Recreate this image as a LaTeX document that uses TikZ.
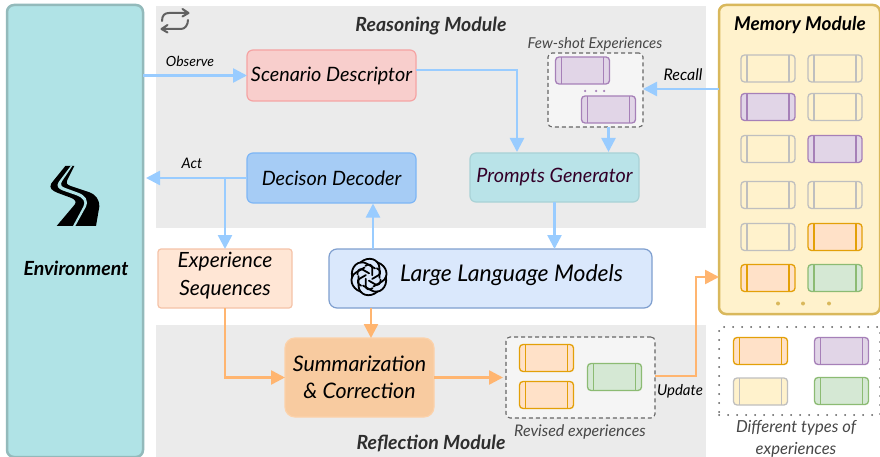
\documentclass[tikz,border=0pt]{standalone}
\usepackage{fontspec}
\setmainfont{Lato}
\usetikzlibrary{arrows.meta,calc}
\definecolor{envF}{HTML}{B0E3E6}\definecolor{envD}{HTML}{93BABB}
\definecolor{modG}{HTML}{EBEBEB}
\definecolor{blueA}{HTML}{99CCFF}\definecolor{orgA}{HTML}{FFB570}
\definecolor{memF}{HTML}{FFF2CC}\definecolor{memD}{HTML}{D9B85C}
\definecolor{purF}{HTML}{E1D5E7}\definecolor{purD}{HTML}{A680B8}
\definecolor{orgF}{HTML}{FFE1C8}\definecolor{orgD}{HTML}{E3A008}
\definecolor{grnF}{HTML}{D5E8D4}\definecolor{grnD}{HTML}{8CBB73}
\definecolor{gryD}{HTML}{BFBFBF}
\definecolor{scF}{HTML}{F8CECC}\definecolor{scD}{HTML}{F5A3A3}
\definecolor{deF}{HTML}{A6CCF5}\definecolor{deD}{HTML}{7EB6F5}
\definecolor{pgF}{HTML}{B9E3E8}\definecolor{pgD}{HTML}{A9D2D6}\definecolor{pgT}{HTML}{330028}
\definecolor{seF}{HTML}{FFE6D5}\definecolor{seD}{HTML}{F5C3A8}
\definecolor{llF}{HTML}{DAE8FC}\definecolor{llD}{HTML}{7F9FCF}
\definecolor{suF}{HTML}{F8CBA0}\definecolor{suD}{HTML}{FCD2AA}
\tikzset{
  x=1pt,y=-1pt,
  every node/.style={inner sep=0pt,outer sep=0pt,font=\itshape},
  box/.style n args={4}{draw=#2,fill=#1,line width=1.2pt,rounded corners=6pt,minimum width=#3,minimum height=#4,align=center,font=\itshape\fontsize{19.8}{27.5}\selectfont},
  card/.style 2 args={draw=#2,fill=#1,line width=1.3pt,rounded corners=3.5pt,minimum width=54pt,minimum height=27pt,
    path picture={\draw[#2,line width=1.3pt]
      ([xshift=6pt]path picture bounding box.north west)--([xshift=6pt]path picture bounding box.south west)
      ([xshift=-6pt]path picture bounding box.north east)--([xshift=-6pt]path picture bounding box.south east);}},
  cy/.style={card={memF}{gryD}}, cp/.style={card={purF}{purD}},
  co/.style={card={orgF}{orgD}}, cg/.style={card={grnF}{grnD}},
  lbl/.style={font=\itshape\fontsize{14.5}{16}\selectfont},
  lblg/.style={font=\itshape\fontsize{15}{22}\selectfont,text=black!72,align=center},
  head/.style={font=\bfseries\itshape\fontsize{19.5}{22}\selectfont,text=black!82},
  blueline/.style={draw=blueA,line width=2.5pt,-{Triangle[length=14pt,width=14pt]}},
  orgline/.style={draw=orgA,line width=2.5pt,-{Triangle[length=14pt,width=14pt]}},
  dot/.style={circle,fill=#1,minimum size=2.5pt},
  dashbox/.style={draw=black!60,fill=black!4,line width=1.1pt,dash pattern=on 4pt off 3pt,rounded corners=4pt},
}
\begin{document}
\begin{tikzpicture}
\useasboundingbox (0,0) rectangle (880,457);
\fill[white] (0,0) rectangle (880,457);
% module backgrounds
\node[fill=modG,minimum width=550pt,minimum height=222pt] (reasoning) at (431,117) {};
\node[fill=modG,minimum width=550pt,minimum height=132pt] (reflection) at (431,391) {};
\node[head] (rt) at (431,26) {Reasoning Module};
\node[head] (ft) at (431,443) {Reflection Module};
% repeat icon
\draw[black!62,line width=2pt,line cap=round,line join=round] (162,21) .. controls (162,15) and (165,13) .. (169,13) -- (188,13) (182.5,9) -- (188.5,13) -- (182.5,16.5);
\draw[black!62,line width=2pt,line cap=round,line join=round] (188,20) .. controls (188,25) and (185,29) .. (181,29) -- (162,29) (167.5,25) -- (161.5,29) -- (167.5,32.5);
% environment
\node[draw=envD,fill=envF,line width=2.5pt,rounded corners=7pt,minimum width=136pt,minimum height=452pt] (env) at (75,231) {};
\node[font=\bfseries\itshape\fontsize{19.5}{22}\selectfont] (envt) at (76,268) {Environment};
\fill[black,shift={(30,160)},x=0.3333pt,y=-0.3333pt]
  (106,18) -- (64,70) .. controls (56,84) and (66,92) .. (84,99) -- (122,113) .. controls (136,118) and (140,126) .. (134,134) -- (80,198)
  -- (198,198) -- (208,140) .. controls (208,118) and (198,104) .. (176,96) -- (122,78) .. controls (110,74) and (108,68) .. (112,60) -- (133,18) -- cycle;
\fill[envF,shift={(30,160)},x=0.3333pt,y=-0.3333pt]
  (122,18) -- (86,66) .. controls (78,78) and (84,86) .. (100,92) -- (140,106) .. controls (160,114) and (168,124) .. (160,140) -- (129,198)
  -- (136,198) -- (168,140) .. controls (176,120) and (166,106) .. (144,98) -- (106,84) .. controls (94,80) and (90,74) .. (96,64) -- (127,18) -- cycle;
% main boxes
\node[box={scF}{scD}{169pt}{51pt}] (scen) at (331.5,75.5) {Scenario Descriptor};
\node[box={deF}{deD}{169pt}{50pt}] (dec) at (331.5,178) {Decison Decoder};
\node[box={pgF}{pgD}{169pt}{49pt},text=pgT] (pg) at (554.5,177.5) {Prompts Generator};
\node[box={seF}{seD}{134pt}{59pt},rounded corners=3pt] (seq) at (225,278.5) {};
\node[align=center,font=\itshape\fontsize{21}{28}\selectfont] (seqt) at (225,276) {Experience\\Sequences};
\node[box={llF}{llD}{323pt}{59pt},rounded corners=8pt] (llm) at (490.5,278.5) {};
\node[font=\itshape\fontsize{23}{27}\selectfont,anchor=west] (llmt) at (400,275) {Large Language Models};
\node[box={suF}{suD}{149pt}{79pt},rounded corners=10pt,font=\itshape\fontsize{21.4}{27}\selectfont] (sum) at (359.5,377.5) {Summarization\\\& Correction};
% LLM logo
\begin{scope}[shift={(369,277)},x=18pt,y=18pt]
\foreach \a in {0,60,...,300}{
 \draw[black,line width=1.8pt,rotate=\a,line join=round,line cap=round]
   (-0.58,0.05) -- (-0.58,-0.48) .. controls (-0.58,-1.0) and (0.05,-1.2) .. (0.48,-0.8);
 \draw[black,line width=1.8pt,rotate=\a,line cap=round] (-0.18,-0.1) -- (-0.18,-0.5) .. controls (-0.18,-0.7) and (0.05,-0.75) .. (0.2,-0.62);
}
\end{scope}
% few-shot
\node[dashbox,minimum width=95pt,minimum height=74pt] (few) at (595.5,90) {};
\node[cp] (p1) at (582.5,70.5) {};
\node[cp] (p2) at (608.5,109.5) {};
\node[dot=purD] (fd1) at (585,91) {};\node[dot=purD] (fd2) at (596,91) {};\node[dot=purD] (fd3) at (604,91) {};
\node[lblg] (fewt) at (595,44) {Few-shot Experiences};
% memory
\node[draw=memD,fill=memF,line width=2.5pt,rounded corners=7pt,minimum width=161pt,minimum height=309pt] (mem) at (799.5,159.5) {};
\node[font=\bfseries\itshape\fontsize{19}{22}\selectfont] (memt) at (800,25) {Memory Module};
\node[cy] (m11) at (768,68.5) {};\node[cy] (m12) at (835,68.5) {};
\node[cp] (m21) at (768,107) {};\node[cy] (m22) at (835,107) {};
\node[cy] (m31) at (768,149) {};\node[cp] (m32) at (835,149) {};
\node[cy] (m41) at (768,195) {};\node[cy] (m42) at (835,195) {};
\node[cy] (m51) at (768,237) {};\node[co] (m52) at (835,237) {};
\node[co] (m61) at (768,278) {};\node[cg] (m62) at (835,278) {};
\node[dot=memD,minimum size=4pt] (md1) at (778,303.5) {};\node[dot=memD,minimum size=4pt] (md2) at (803,303.5) {};\node[dot=memD,minimum size=4pt] (md3) at (829,303.5) {};
% revised
\node[dashbox,minimum width=149pt,minimum height=81pt] (rev) at (580.5,377.5) {};
\node[co] (r1) at (546.5,358) {};
\node[co] (r2) at (546.5,395) {};
\node[cg] (r3) at (614.5,377) {};
\node[lblg,font=\itshape\fontsize{16}{22}\selectfont] (revt) at (580,432) {Revised experiences};
% legend
\node[draw=black!65,line width=2pt,line cap=round,dash pattern=on 0pt off 9pt,minimum width=161pt,minimum height=88pt] (leg) at (799.5,371) {};
\node[co] (l1) at (760.5,351) {};
\node[cp] (l2) at (841.5,351) {};
\node[cy] (l3) at (760.5,391.5) {};
\node[cg] (l4) at (841.5,391) {};
\node[lblg,font=\itshape\fontsize{16.6}{22}\selectfont] (legt) at (796,439) {Different types of\\experiences};
% connector labels
\node[lbl,font=\itshape\fontsize{14}{16}\selectfont] (obs) at (190,61) {Observe};
\node[lbl] (act) at (192,163) {Act};
\node[lbl,font=\itshape\fontsize{16}{18}\selectfont] (rec) at (683,75) {Recall};
\node[lbl,font=\itshape\fontsize{15}{18}\selectfont] (upd) at (680,391) {Update};
% connectors
\coordinate (bendA) at (517,70);
\coordinate (bendU) at (696,376);
\coordinate (actB) at (225,177);
\draw[blueline] (env.east |- scen.west) -- (scen.west);
\draw[blueline,shorten >=1pt] (scen.east |- bendA) -- (bendA) -- (bendA |- pg.north);
\draw[blueline,shorten >=3pt] (dec.west) -- (env.east |- dec.west);
\draw[blueline] (actB) -- (actB |- seq.north);
\draw[blueline] (373,249) -- (373,203.5);
\draw[blueline] (mem.west |- 0,89) -- (few.east |- 0,89);
\draw[blueline,shorten >=1pt] (p2.south |- few.south) -- (p2.south |- pg.north);
\draw[blueline] (pg.south) -- (pg.south |- llm.north);
\draw[orgline] (371,308) -- (371,338);
\draw[orgline] (seq.south) -- (seq.south |- sum.west) -- (sum.west);
\draw[orgline,shorten >=3pt] (sum.east) -- (rev.west);
\draw[orgline] (rev.east |- bendU) -- (bendU) -- (bendU |- 0,277) -- (mem.west |- 0,277);
\end{tikzpicture}
\end{document}
